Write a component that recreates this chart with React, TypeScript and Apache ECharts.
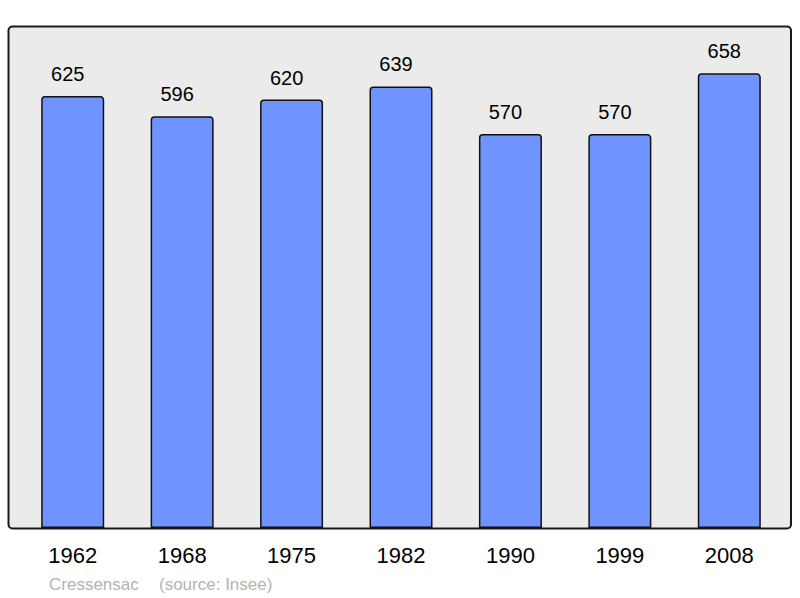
import React, { useEffect, useRef } from "react";
import * as echarts from "echarts";

const years = ["1962", "1968", "1975", "1982", "1990", "1999", "2008"];
const population = [625, 596, 620, 639, 570, 570, 658];
const footerPlace = "Cressensac";
const footerSource = "(source: Insee)";

const FONT = '"Liberation Sans", Arial, sans-serif';

export default function App() {
  const ref = useRef<HTMLDivElement>(null);
  useEffect(() => {
    if (!ref.current) return;
    const chart = echarts.init(ref.current, null, { renderer: "svg" });
    chart.setOption({
      animation: false,
      backgroundColor: "#ffffff",
      grid: { left: 18, right: 16, top: 27, bottom: 70, containLabel: false },
      xAxis: {
        type: "category",
        data: years,
        axisLine: { show: false },
        axisTick: { show: false },
        axisLabel: { fontSize: 22, color: "#000", fontFamily: FONT, margin: 16 },
      },
      yAxis: {
        type: "value",
        min: 0,
        max: 725,
        show: false,
        splitLine: { show: false },
      },
      graphic: [
        {
          type: "rect",
          z: -10,
          shape: { x: 8.5, y: 26.5, width: 782.5, height: 502, r: 4 },
          style: { fill: "#ebebeb", stroke: "#1a1a1a", lineWidth: 2 },
        },
        {
          type: "text",
          left: 49,
          top: 576,
          style: { text: footerPlace, fontSize: 17, fill: "#b3b3b3", fontFamily: FONT },
        },
        {
          type: "text",
          left: 159,
          top: 576,
          style: { text: footerSource, fontSize: 17, fill: "#b3b3b3", fontFamily: FONT },
        },
      ],
      series: [
        {
          type: "bar",
          data: population,
          barWidth: 63,
          itemStyle: {
            color: "#7094ff",
            borderColor: "#111",
            borderWidth: 1.5,
            borderRadius: [3, 3, 0, 0],
          },
          label: {
            show: true,
            position: "top",
            distance: 12,
            offset: [-5, 0],
            fontSize: 20,
            color: "#000",
            fontFamily: FONT,
          },
        },
      ],
    });
    return () => chart.dispose();
  }, []);
  return <div ref={ref} style={{ width: 800, height: 598, position: "absolute", left: 0, top: 0 }} />;
}
